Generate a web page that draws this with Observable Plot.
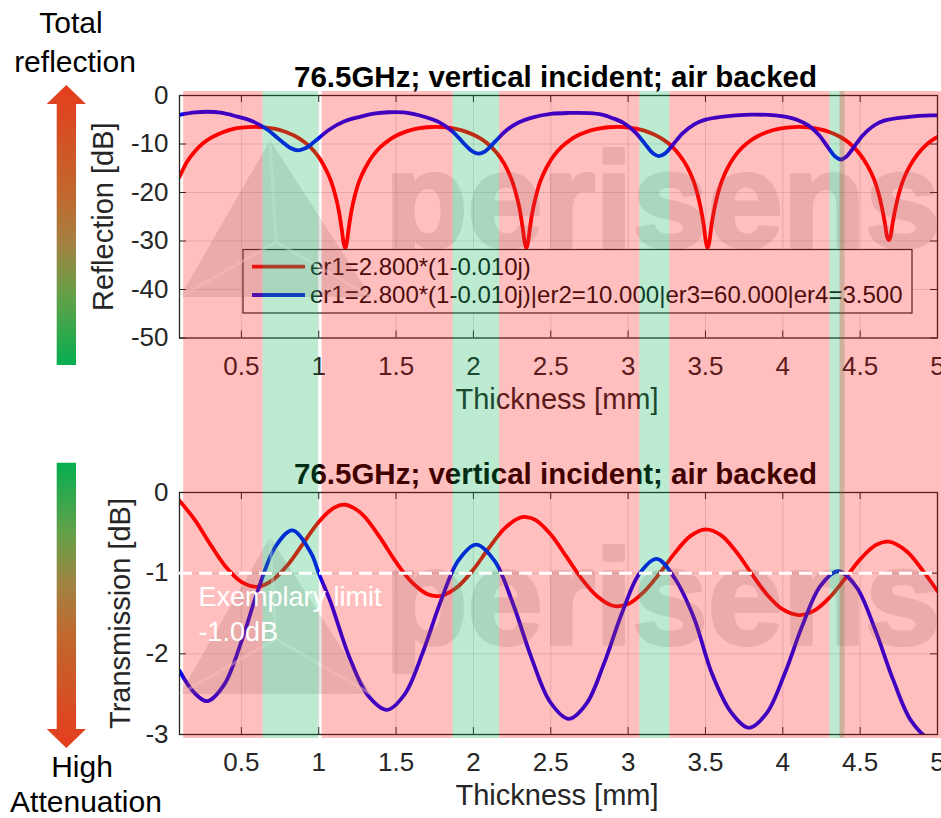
<!DOCTYPE html>
<html><head><meta charset="utf-8">
<script src="https://cdn.jsdelivr.net/npm/d3@7"></script>
<script src="https://cdn.jsdelivr.net/npm/@observablehq/plot@0.6"></script>
<style>
html,body{margin:0;padding:0;background:#fff;}
#wrap{position:relative;width:941px;height:818px;overflow:hidden;}
#wrap > svg{position:absolute;left:0;}
</style></head><body><div id="wrap"></div>
<script>
// ---------- data ----------
const xTicks = [0.5, 1, 1.5, 2, 2.5, 3, 3.5, 4, 4.5, 5];
const reflTicks = [0, -10, -20, -30, -40, -50];
const transTicks = [0, -1, -2, -3];
const seriesNames = ["er1=2.800*(1-0.010j)", "er1=2.800*(1-0.010j)|er2=10.000|er3=60.000|er4=3.500"];
const seriesColors = ["#ff0000", "#0000ff"];
const titleText = "76.5GHz; vertical incident; air backed";
const xLabel = "Thickness [mm]";
const reflLabel = "Reflection [dB]";
const transLabel = "Transmission [dB]";
const limitValue = -1;
const limitLabel = "Exemplary limit\n-1.0dB";
const watermarkWord = "perisens";
const sideTop = ["Total", "reflection"];
const sideBottom = ["High", "Attenuation"];

// thickness ranges (mm) where the blue transmission is above / below the limit
const greenBands = [[0.640, 0.9996], [1.869, 2.169], [3.076, 3.270], [4.305, 4.402]];
const redBands = [[0.127, 0.640], [1.022, 1.869], [2.169, 3.076], [3.270, 4.305], [4.370, 5.03]];

// [thickness mm, dB]
const reflRed = [[0.1,-16.8],[0.15,-13.6],[0.2,-11.5],[0.25,-9.9],[0.3,-8.8],[0.35,-8.0],[0.4,-7.35],[0.45,-6.9],[0.5,-6.64],[0.586,-6.46],[0.65,-6.56],[0.7,-6.79],[0.75,-7.15],[0.8,-7.7],[0.85,-8.4],[0.9,-9.45],[0.95,-10.8],[1.0,-12.7],[1.05,-15.5],[1.08,-17.7],[1.11,-20.9],[1.13,-23.8],[1.15,-27.9],[1.16,-30.2],[1.171,-31.5],[1.18,-30.6],[1.19,-28.3],[1.21,-24.1],[1.23,-21.1],[1.26,-17.8],[1.3,-15.0],[1.35,-12.4],[1.4,-10.6],[1.45,-9.3],[1.5,-8.3],[1.55,-7.6],[1.6,-7.1],[1.65,-6.75],[1.7,-6.55],[1.757,-6.46],[1.8,-6.51],[1.85,-6.68],[1.9,-6.97],[1.95,-7.44],[2.0,-8.1],[2.05,-8.96],[2.1,-10.15],[2.15,-11.8],[2.2,-14.1],[2.25,-17.6],[2.28,-20.8],[2.3,-23.6],[2.32,-27.7],[2.332,-30.4],[2.342,-31.5],[2.352,-30.4],[2.365,-27.4],[2.38,-24.3],[2.4,-21.3],[2.43,-17.9],[2.47,-15.0],[2.52,-12.4],[2.57,-10.6],[2.62,-9.3],[2.67,-8.3],[2.72,-7.62],[2.77,-7.1],[2.82,-6.76],[2.87,-6.55],[2.928,-6.46],[2.98,-6.53],[3.03,-6.73],[3.08,-7.05],[3.13,-7.55],[3.18,-8.22],[3.23,-9.15],[3.28,-10.4],[3.33,-12.2],[3.38,-14.6],[3.42,-17.4],[3.45,-20.5],[3.47,-23.3],[3.49,-27.0],[3.503,-30.2],[3.514,-31.5],[3.525,-30.2],[3.538,-27.0],[3.555,-23.8],[3.575,-20.9],[3.605,-17.7],[3.645,-14.8],[3.69,-12.5],[3.74,-10.65],[3.79,-9.33],[3.84,-8.35],[3.89,-7.64],[3.94,-7.12],[3.99,-6.77],[4.04,-6.56],[4.099,-6.46],[4.15,-6.52],[4.2,-6.72],[4.25,-7.04],[4.3,-7.53],[4.35,-8.2],[4.4,-9.1],[4.45,-10.38],[4.5,-12.16],[4.55,-14.6],[4.59,-17.3],[4.62,-20.3],[4.64,-23.0],[4.66,-26.3],[4.675,-29.2],[4.685,-29.8],[4.695,-29.2],[4.71,-26.3],[4.73,-23.0],[4.75,-20.3],[4.78,-17.3],[4.82,-14.6],[4.87,-12.16],[4.92,-10.38],[4.97,-9.1],[5.0,-8.55]];

const reflBlue = [[0.1,-4.0],[0.2,-3.5],[0.282,-3.35],[0.367,-3.55],[0.467,-4.3],[0.567,-5.26],[0.667,-7.01],[0.717,-8.28],[0.767,-9.63],[0.817,-10.82],[0.867,-11.3],[0.917,-10.83],[0.967,-9.65],[1.017,-8.32],[1.067,-7.06],[1.167,-5.33],[1.267,-4.39],[1.367,-3.7],[1.45,-3.45],[1.55,-3.5],[1.693,-4.48],[1.778,-5.5],[1.863,-7.38],[1.906,-8.75],[1.948,-10.2],[1.991,-11.49],[2.033,-12.0],[2.076,-11.5],[2.118,-10.24],[2.161,-8.81],[2.203,-7.46],[2.288,-5.62],[2.373,-4.61],[2.5,-3.8],[2.62,-3.6],[2.75,-3.65],[2.83,-3.95],[2.9,-4.67],[2.975,-5.74],[3.05,-7.69],[3.0875,-9.12],[3.125,-10.63],[3.1625,-11.97],[3.2,-12.5],[3.2375,-11.99],[3.275,-10.7],[3.3125,-9.25],[3.35,-7.88],[3.425,-6.0],[3.5,-4.98],[3.6,-4.4],[3.79,-3.95],[3.95,-4.1],[4.03,-4.45],[4.095,-5.06],[4.165,-6.17],[4.235,-8.21],[4.27,-9.69],[4.305,-11.26],[4.34,-12.65],[4.375,-13.2],[4.41,-12.65],[4.445,-11.29],[4.48,-9.74],[4.515,-8.29],[4.585,-6.28],[4.655,-5.19],[4.8,-4.45],[4.96,-4.1],[5.0,-4.12]];

const transRed = [[0.1,-0.101],[0.2,-0.343],[0.3,-0.646],[0.4,-0.923],[0.5,-1.109],[0.6,-1.169],[0.7,-1.089],[0.8,-0.897],[0.9,-0.63],[1.0,-0.365],[1.1,-0.187],[1.171,-0.152],[1.25,-0.22],[1.3,-0.308],[1.4,-0.569],[1.5,-0.864],[1.6,-1.108],[1.7,-1.258],[1.757,-1.285],[1.8,-1.277],[1.9,-1.166],[2.0,-0.954],[2.1,-0.688],[2.2,-0.448],[2.3,-0.314],[2.342,-0.304],[2.4,-0.34],[2.5,-0.521],[2.6,-0.792],[2.7,-1.071],[2.8,-1.287],[2.9,-1.404],[3.0,-1.383],[3.1,-1.236],[3.2,-1.011],[3.3,-0.755],[3.4,-0.544],[3.5,-0.457],[3.6,-0.529],[3.7,-0.738],[3.8,-1.012],[3.9,-1.27],[4.0,-1.45],[4.1,-1.519],[4.2,-1.467],[4.3,-1.306],[4.4,-1.073],[4.5,-0.829],[4.6,-0.653],[4.685,-0.609],[4.8,-0.728],[4.9,-0.956],[5.0,-1.224]];

const transBlue = [[0.1,-2.21],[0.19,-2.47],[0.278,-2.587],[0.388,-2.385],[0.499,-1.856],[0.609,-1.201],[0.72,-0.672],[0.83,-0.47],[0.95,-0.75],[1.0,-1.0],[1.075,-1.35],[1.2,-2.05],[1.32,-2.52],[1.442,-2.694],[1.557,-2.498],[1.672,-1.986],[1.788,-1.353],[1.903,-0.841],[2.018,-0.645],[2.138,-0.851],[2.258,-1.392],[2.377,-2.059],[2.497,-2.6],[2.617,-2.806],[2.731,-2.617],[2.844,-2.121],[2.958,-1.507],[3.071,-1.011],[3.185,-0.822],[3.3,-1.06],[3.424,-1.546],[3.543,-2.25],[3.663,-2.717],[3.782,-2.917],[3.897,-2.732],[4.012,-2.246],[4.127,-1.647],[4.242,-1.161],[4.357,-0.976],[4.476,-1.172],[4.594,-1.686],[4.713,-2.32],[4.831,-2.834],[4.95,-3.05],[5.0,-3.03]];

// ---------- layout ----------
const FONT = '"Liberation Sans", Arial, Helvetica, sans-serif';
const W = 941, ML = 179, MR = 4, TICK = 7;
const AX = "#262626";

function buildPanel(o) {
  const frameH = o.height - o.marginTop - o.marginBottom;
  const frameW = W - ML - MR;
  const marks = [
    Plot.gridX(xTicks.slice(0, -1), {stroke: AX, strokeOpacity: 0.15, strokeWidth: 1}),
    Plot.gridY(o.yTicks.slice(1, -1), {stroke: AX, strokeOpacity: 0.15, strokeWidth: 1}),
    ...o.lines.map((l) => Plot.line(l.data, {x: (d) => d[0], y: (d) => d[1], stroke: l.color, strokeWidth: 3.8, curve: "catmull-rom", clip: true})),
    Plot.frame({stroke: AX, strokeWidth: 1.3}),
    Plot.tickX(xTicks, {x: (d) => d, stroke: AX, insetTop: frameH - TICK}),
    Plot.tickX(xTicks, {x: (d) => d, stroke: AX, insetBottom: frameH - TICK}),
    Plot.tickY(o.yTicks, {y: (d) => d, stroke: AX, insetRight: frameW - TICK}),
    Plot.tickY(o.yTicks, {y: (d) => d, stroke: AX, insetLeft: frameW - TICK}),
    Plot.axisX(xTicks, {tickSize: 0, tickPadding: 18.5, tickFormat: (d) => String(d), label: null, fontSize: 26}),
    Plot.axisY(o.yTicks, {tickSize: 0, tickPadding: 11, tickFormat: (d) => String(d), label: null, fontSize: 26}),
    Plot.text([titleText], {frameAnchor: "top", textAnchor: "middle", dx: -3, dy: -9, lineAnchor: "bottom", fontWeight: "bold", fontSize: 29.5, fill: "#000"}),
    Plot.text([xLabel], {frameAnchor: "bottom", textAnchor: "middle", dx: -1.5, dy: 70.8, lineAnchor: "bottom", fontSize: 29}),
    Plot.text([o.ylabel], {frameAnchor: "left", textAnchor: "middle", dx: o.ylabelDx, rotate: -90, lineAnchor: "bottom", fontSize: 29}),
    Plot.rect(greenBands, {x1: (d) => d[0], x2: (d) => d[1], fill: "#00b050", fillOpacity: 0.26, insetTop: o.bandInsetTop, insetBottom: o.bandInsetBottom, ariaLabel: "green-bands"}),
    Plot.rect(redBands, {x1: (d) => d[0], x2: (d) => d[1], fill: "#ff0000", fillOpacity: 0.25, insetTop: o.bandInsetTop, insetBottom: o.bandInsetBottom, ariaLabel: "red-bands"}),
    ...(o.after || [])
  ];
  return Plot.plot({
    width: W, height: o.height,
    marginLeft: ML, marginRight: MR, marginTop: o.marginTop, marginBottom: o.marginBottom,
    x: {domain: [0.1, 5]},
    y: {domain: o.yDomain},
    style: {background: "white", fontFamily: FONT, fontSize: "26px", color: AX, overflow: "visible"},
    marks
  });
}

function findBands(svg) {
  return svg.querySelector('g[aria-label="green-bands"]') ||
    [...svg.querySelectorAll("g")].find((g) => g.getAttribute("fill") === "#00b050") || null;
}

function makeWatermarkText(fx, fy) {
  const g = d3.create("svg:g").attr("opacity", 0.2).attr("pointer-events", "none");
  g.append("text").attr("x", fx + 206).attr("y", fy + 152).attr("text-anchor", "start")
    .attr("font-family", FONT).attr("font-weight", "bold").attr("font-size", 135)
    .attr("fill", "#7f7f7f").attr("stroke", "#7f7f7f").attr("stroke-width", 4).attr("stroke-linejoin", "round")
    .text(watermarkWord);
  return g.node();
}
function makeWatermarkLogo(fx, fy) {
  const g = d3.create("svg:g").attr("pointer-events", "none");
  const ax = fx + 91, ay = fy + 45, lx = fx + 1, ly = fy + 202, rx = fx + 192, ry = fy + 202, ix = fx + 97, iy = fy + 147;
  g.append("path").attr("d", `M${ax},${ay}L${rx},${ry}L${lx},${ly}Z`).attr("fill", "#7f7f7f").attr("fill-opacity", 0.2);
  g.append("path").attr("d", `M${ax},${ay}L${ix},${iy}L${lx},${ly}M${ix},${iy}L${rx},${ry}`)
    .attr("fill", "none").attr("stroke", "#fff").attr("stroke-opacity", 0.4).attr("stroke-width", 3);
  return g.node();
}
function makeLegend() {
  const g = d3.create("svg:g").attr("aria-label", "legend");
  g.append("rect").attr("x", 243).attr("y", 249.5).attr("width", 669).attr("height", 63.5)
    .attr("fill", "#fff").attr("stroke", AX).attr("stroke-width", 1.2);
  seriesNames.forEach((name, i) => {
    const cy = 266.7 + i * 28.3;
    g.append("line").attr("x1", 252).attr("x2", 305).attr("y1", cy).attr("y2", cy)
      .attr("stroke", seriesColors[i]).attr("stroke-width", 3.8);
    g.append("text").attr("x", 310).attr("y", cy).attr("dy", "0.35em").attr("text-anchor", "start")
      .attr("font-family", FONT).attr("font-size", 24).attr("fill", "#111").text(name);
  });
  return g.node();
}

const wrap = document.getElementById("wrap");

// top panel: reflection
const topCfg = {height: 440, marginTop: 95, marginBottom: 102.5, yDomain: [-50, 0], yTicks: reflTicks,
  lines: [{data: reflRed, color: seriesColors[0]}, {data: reflBlue, color: seriesColors[1]}],
  ylabel: reflLabel, ylabelDx: -66.5, bandInsetTop: -4, bandInsetBottom: -102.5};
const topSvg = buildPanel(topCfg);
{
  const b = findBands(topSvg);
  topSvg.insertBefore(makeWatermarkText(ML, topCfg.marginTop), b);
  topSvg.insertBefore(makeLegend(), b);
  topSvg.insertBefore(makeWatermarkLogo(ML, topCfg.marginTop), b);
}
topSvg.style.top = "0px";
wrap.appendChild(topSvg);

// bottom panel: transmission
const botCfg = {height: 378, marginTop: 52, marginBottom: 84, yDomain: [-3, 0], yTicks: transTicks,
  lines: [{data: transRed, color: seriesColors[0]}, {data: transBlue, color: seriesColors[1]}],
  ylabel: transLabel, ylabelDx: -50, bandInsetTop: -52, bandInsetBottom: -4,
  after: [
    Plot.ruleY([limitValue], {stroke: "white", strokeWidth: 3, strokeDasharray: "13,7"}),
    Plot.text([limitLabel], {frameAnchor: "top-left", dx: 19, dy: 148.7, lineAnchor: "bottom", textAnchor: "start", lineHeight: 1.32, fontSize: 27, fill: "white"})
  ]};
const botSvg = buildPanel(botCfg);
{
  const b = findBands(botSvg);
  botSvg.insertBefore(makeWatermarkText(ML, botCfg.marginTop), b);
  botSvg.insertBefore(makeWatermarkLogo(ML, botCfg.marginTop), b);
}
botSvg.style.top = "440px";
wrap.appendChild(botSvg);

// side arrows and captions
const side = d3.create("svg").attr("width", 180).attr("height", 818)
  .style("position", "absolute").style("left", "0px").style("top", "0px");
const defs = side.append("defs");
const up = defs.append("linearGradient").attr("id", "gUp").attr("x1", 0).attr("y1", 0).attr("x2", 0).attr("y2", 1);
[[0, "#e53d1d"], [0.4, "#c0692f"], [0.56, "#a58040"], [0.75, "#65a048"], [1, "#05ae50"]]
  .forEach(([o, c]) => up.append("stop").attr("offset", o).attr("stop-color", c));
const dn = defs.append("linearGradient").attr("id", "gDn").attr("x1", 0).attr("y1", 0).attr("x2", 0).attr("y2", 1);
[[0, "#05ae50"], [0.25, "#65a048"], [0.44, "#a58040"], [0.6, "#c0692f"], [1, "#e53d1d"]]
  .forEach(([o, c]) => dn.append("stop").attr("offset", o).attr("stop-color", c));
side.append("path").attr("d", "M66.3,85L86,104L76,104L76,365L56.7,365L56.7,104L46.7,104Z").attr("fill", "url(#gUp)");
side.append("path").attr("d", "M56.7,462.7L76,462.7L76,729L86,729L66.3,748L46.7,729L56.7,729Z").attr("fill", "url(#gDn)");
const st = side.append("g").attr("font-family", FONT).attr("font-size", 30).attr("fill", "#000").attr("text-anchor", "middle");
st.append("text").attr("x", 71).attr("y", 33).text(sideTop[0]);
st.append("text").attr("x", 75).attr("y", 71.5).text(sideTop[1]);
st.append("text").attr("x", 82).attr("y", 777).text(sideBottom[0]);
st.append("text").attr("x", 86).attr("y", 812).text(sideBottom[1]);
wrap.appendChild(side.node());
</script>
</body></html>
